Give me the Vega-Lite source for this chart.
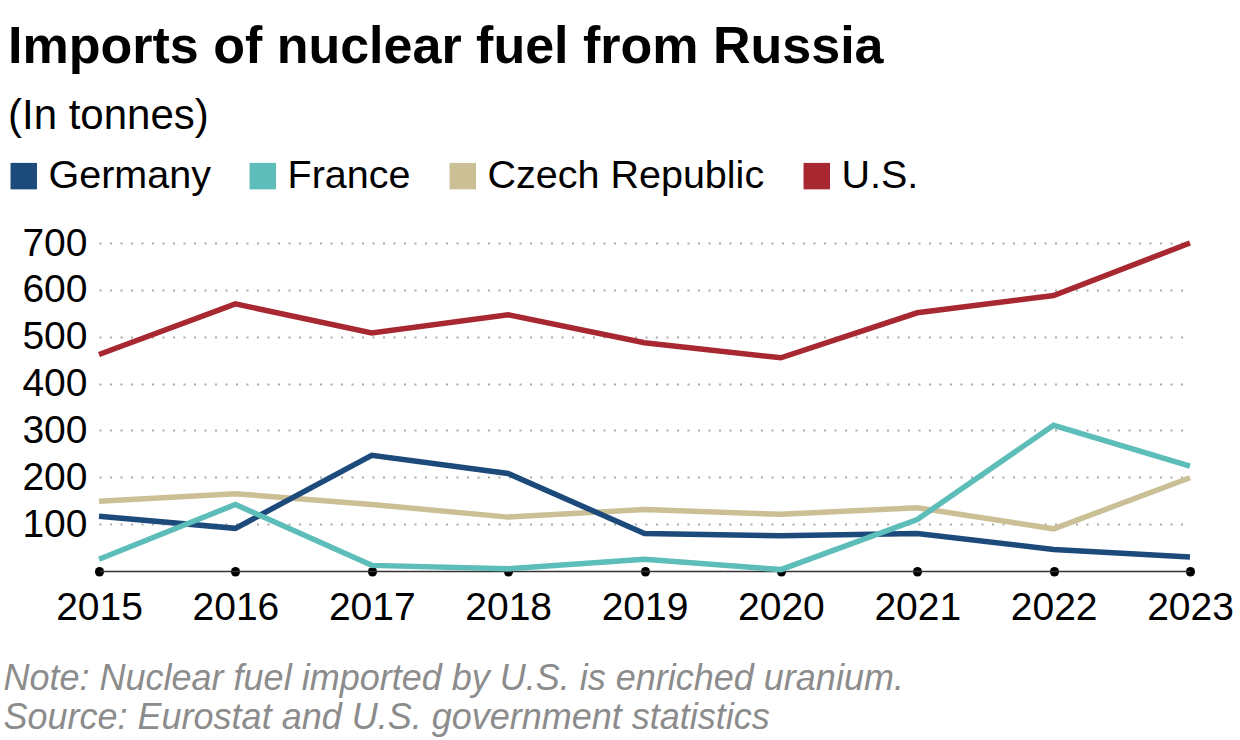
{
  "$schema": "https://vega.github.io/schema/vega-lite/v6.json",
  "width": 1091,
  "height": 328,
  "autosize": {"type": "none"},
  "padding": {"left": 99, "top": 243, "right": 50, "bottom": 169},
  "background": "white",
  "config": {"font": "Liberation Sans", "view": {"stroke": null}},
  "title": {
    "text": "Imports of nuclear fuel from Russia",
    "subtitle": "(In tonnes)",
    "anchor": "start",
    "frame": "bounds",
    "font": "Liberation Sans",
    "fontSize": 52,
    "fontWeight": "bold",
    "color": "black",
    "subtitleFont": "Liberation Sans",
    "subtitleFontSize": 42,
    "subtitleColor": "black",
    "subtitlePadding": 22,
    "offset": 18,
    "dx": 5
  },
  "data": {
    "values": [
      {"year": 2015, "country": "Czech Republic", "value": 149},
      {"year": 2016, "country": "Czech Republic", "value": 165},
      {"year": 2017, "country": "Czech Republic", "value": 142},
      {"year": 2018, "country": "Czech Republic", "value": 115},
      {"year": 2019, "country": "Czech Republic", "value": 131},
      {"year": 2020, "country": "Czech Republic", "value": 121},
      {"year": 2021, "country": "Czech Republic", "value": 135},
      {"year": 2022, "country": "Czech Republic", "value": 90},
      {"year": 2023, "country": "Czech Republic", "value": 199},
      {"year": 2015, "country": "Germany", "value": 117},
      {"year": 2016, "country": "Germany", "value": 91},
      {"year": 2017, "country": "Germany", "value": 247},
      {"year": 2018, "country": "Germany", "value": 208},
      {"year": 2019, "country": "Germany", "value": 80},
      {"year": 2020, "country": "Germany", "value": 75},
      {"year": 2021, "country": "Germany", "value": 80},
      {"year": 2022, "country": "Germany", "value": 46},
      {"year": 2023, "country": "Germany", "value": 30},
      {"year": 2015, "country": "France", "value": 25},
      {"year": 2016, "country": "France", "value": 142},
      {"year": 2017, "country": "France", "value": 12},
      {"year": 2018, "country": "France", "value": 5},
      {"year": 2019, "country": "France", "value": 25},
      {"year": 2020, "country": "France", "value": 3},
      {"year": 2021, "country": "France", "value": 110},
      {"year": 2022, "country": "France", "value": 311},
      {"year": 2023, "country": "France", "value": 224},
      {"year": 2015, "country": "U.S.", "value": 462},
      {"year": 2016, "country": "U.S.", "value": 570},
      {"year": 2017, "country": "U.S.", "value": 508},
      {"year": 2018, "country": "U.S.", "value": 547},
      {"year": 2019, "country": "U.S.", "value": 487},
      {"year": 2020, "country": "U.S.", "value": 455},
      {"year": 2021, "country": "U.S.", "value": 551},
      {"year": 2022, "country": "U.S.", "value": 588},
      {"year": 2023, "country": "U.S.", "value": 700}
    ]
  },
  "mark": {"type": "line", "strokeWidth": 5.5},
  "encoding": {
    "x": {
      "field": "year",
      "type": "quantitative",
      "scale": {"domain": [2015, 2023], "nice": false, "zero": false},
      "axis": {
        "values": [2015, 2016, 2017, 2018, 2019, 2020, 2021, 2022, 2023],
        "format": "d",
        "labelFontSize": 39,
        "labelColor": "black",
        "labelPadding": 17,
        "labelFlush": false,
        "labelOverlap": false,
        "domainColor": "#333333",
        "domainWidth": 1.5,
        "tickColor": "black",
        "tickWidth": 9,
        "tickCap": "round",
        "tickSize": 0.5,
        "grid": false,
        "title": ["Note: Nuclear fuel imported by U.S. is enriched uranium.", "Source: Eurostat and U.S. government statistics"],
        "titleFont": "Liberation Sans",
        "titleFontStyle": "italic",
        "titleFontWeight": "normal",
        "titleFontSize": 36,
        "titleColor": "#8c8c8c",
        "titleAnchor": "start",
        "titleAlign": "left",
        "titleBaseline": "alphabetic",
        "titleX": -96,
        "titleY": 118,
        "titleLineHeight": 39
      }
    },
    "y": {
      "field": "value",
      "type": "quantitative",
      "scale": {"domain": [0, 700], "nice": false},
      "axis": {
        "values": [100, 200, 300, 400, 500, 600, 700],
        "labelFontSize": 39,
        "labelColor": "black",
        "labelPadding": 12,
        "domain": false,
        "ticks": false,
        "gridColor": "#aaaaaa",
        "gridDash": [2, 8.5],
        "gridWidth": 2,
        "title": null
      }
    },
    "color": {
      "field": "country",
      "type": "nominal",
      "scale": {
        "domain": ["Germany", "France", "Czech Republic", "U.S."],
        "range": ["#1c4a7b", "#5cbdb9", "#cbbf95", "#a82832"]
      },
      "legend": {
        "orient": "none",
        "legendX": -95,
        "legendY": -87,
        "direction": "horizontal",
        "title": null,
        "symbolType": "square",
        "symbolSize": 700,
        "labelFontSize": 39.5,
        "labelColor": "black",
        "labelFont": "Liberation Sans",
        "labelLimit": 600,
        "columnPadding": 32,
        "labelOffset": 5,
        "encode": {
          "symbols": {
            "update": {
              "fill": {"scale": "color", "field": "value"},
              "strokeWidth": {"value": 0},
              "opacity": {"value": 1}
            }
          }
        }
      }
    }
  }
}
